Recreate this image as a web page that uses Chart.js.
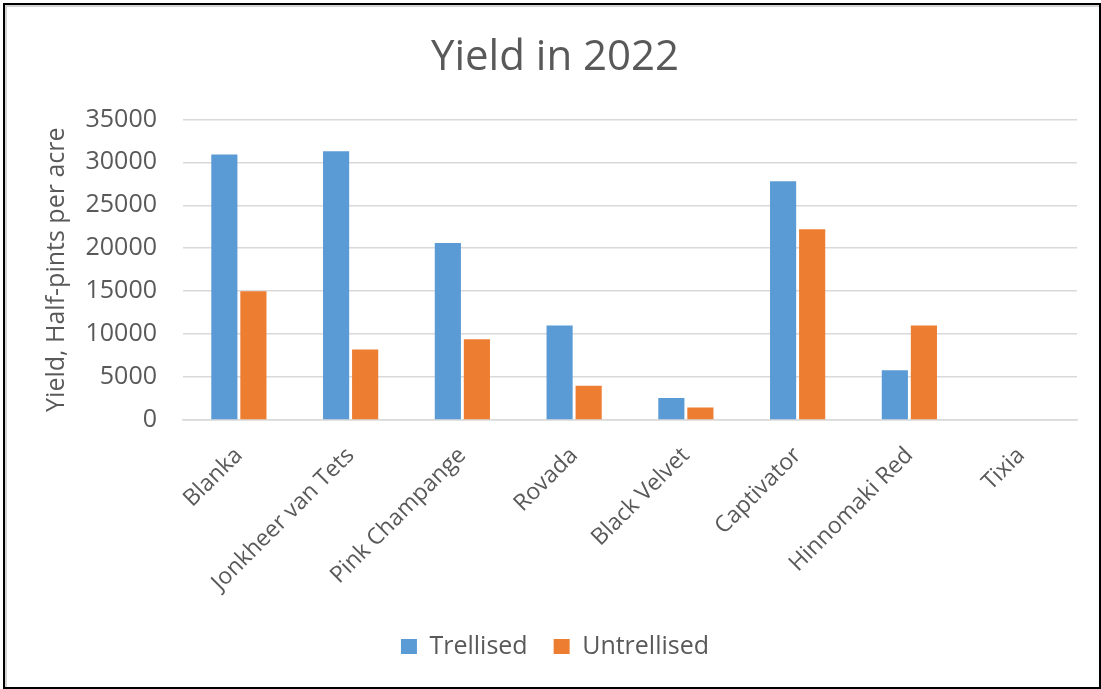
<!DOCTYPE html>
<html>
<head>
<meta charset="utf-8">
<script src="https://cdn.jsdelivr.net/npm/chart.js@4/dist/chart.umd.min.js"></script>
<style>
  html, body { margin: 0; padding: 0; background: #fff; }
  body { width: 1101px; height: 689px; position: relative; overflow: hidden; }
  #wrap {
    position: absolute;
    left: 3px;
    top: 3px;
    width: 1098px;
    height: 686px;
    box-sizing: border-box;
    border: 2px solid #000;
    box-shadow: inset 2px 2px 0 #d4d4d4;
    background: #fff;
  }
  #wrap canvas { display: block; }
</style>
</head>
<body>
<div id="wrap"><canvas id="yieldChart" width="1094" height="682"></canvas></div>
<script>
// Varieties (categories)
var varieties = ["Blanka", "Jonkheer van Tets", "Pink Champange", "Rovada",
  "Black Velvet", "Captivator", "Hinnomaki Red", "Tixia"];

// Half-pints per acre
var trellised = [30900, 31300, 20600, 11000, 2550, 27800, 5800, 0];
var untrellised = [15000, 8200, 9400, 4000, 1450, 22200, 11000, 0];

var yTicks = [0, 5000, 10000, 15000, 20000, 25000, 30000, 35000];

var textGray = "#595959";
var fontFamily = "'Open Sans', 'Noto Sans', sans-serif";

document.addEventListener("DOMContentLoaded", function() {
  var ctx = document.getElementById("yieldChart").getContext("2d");

  new Chart(ctx, {
    type: "bar",
    data: {
      labels: varieties,
      datasets: [
        {
          label: "Trellised",
          data: trellised,
          backgroundColor: "#5B9BD5",
          categoryPercentage: 0.52,
          barPercentage: 0.9
        },
        {
          label: "Untrellised",
          data: untrellised,
          backgroundColor: "#ED7D31",
          categoryPercentage: 0.52,
          barPercentage: 0.9
        }
      ]
    },
    options: {
      responsive: false,
      animation: false,
      layout: {
        padding: { left: 28, right: 22, top: 8, bottom: 18 }
      },
      plugins: {
        title: {
          display: true,
          text: "Yield in 2022",
          color: textGray,
          font: { family: fontFamily, size: 42, weight: "normal" },
          padding: { top: 20, bottom: 36 }
        },
        legend: {
          display: true,
          position: "bottom",
          labels: {
            color: textGray,
            font: { family: fontFamily, size: 25 },
            boxWidth: 16,
            boxHeight: 15,
            padding: 26
          }
        },
        tooltip: { enabled: false }
      },
      scales: {
        x: {
          afterFit: function(scale) { scale.height = 188; },
          grid: { display: false, drawTicks: false },
          border: { display: true, color: "#D9D9D9", width: 1.5 },
          ticks: {
            color: textGray,
            font: { family: fontFamily, size: 23 },
            minRotation: 45,
            maxRotation: 45,
            padding: 22
          }
        },
        y: {
          min: 0,
          max: 35000,
          afterBuildTicks: function(scale) {
            scale.ticks = yTicks.map(function(v) { return { value: v }; });
          },
          afterFit: function(scale) { scale.width = 150; },
          grid: { color: "#D9D9D9", lineWidth: 1.5, drawTicks: false },
          border: { display: false },
          ticks: {
            color: textGray,
            font: { family: fontFamily, size: 25 },
            padding: 26,
            callback: function(value) { return String(value); }
          },
          title: {
            display: true,
            text: "Yield, Half-pints per acre",
            color: textGray,
            font: { family: fontFamily, size: 25 },
            padding: { top: 9, bottom: 0 }
          }
        }
      }
    }
  });
});
</script>
</body>
</html>
